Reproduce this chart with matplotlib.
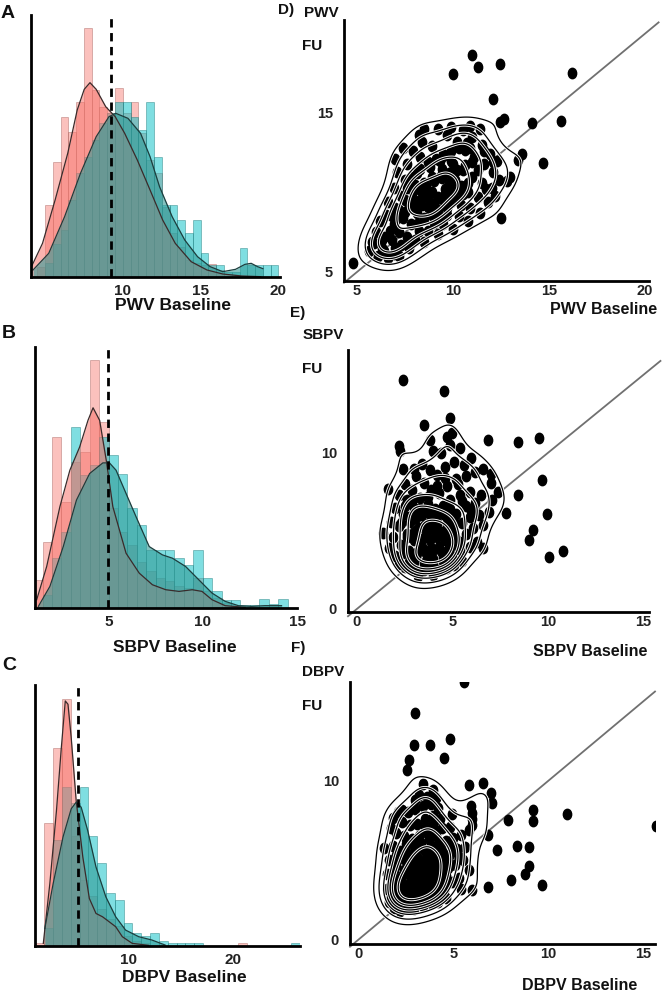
import numpy as np
import matplotlib
matplotlib.use('Agg')
import matplotlib.pyplot as plt
import matplotlib.patheffects as pe
from matplotlib.markers import MarkerStyle
from matplotlib.transforms import Affine2D

plt.rcParams['font.family'] = ['Liberation Sans', 'DejaVu Sans']
plt.rcParams['font.weight'] = 'bold'

PINK = '#F8766D'
TEAL = '#00BFC4'

# ---- histograms (bar heights, arbitrary density units) ----
pwv_start, pwv_width = 4.5, 0.5
pwv_pink = [30, 216, 346, 481, 436, 526, 746, 561, 511, 491, 566, 491, 526, 431, 351, 311,
            211, 131, 91, 51, 41, 36, 38, 21, 10, 5, 0, 0, 0, 0, 0]
pwv_teal = [0, 41, 100, 140, 230, 311, 361, 411, 461, 491, 526, 526, 481, 441, 526, 361,
            216, 216, 171, 131, 171, 71, 36, 36, 16, 16, 86, 36, 36, 36, 36]
pwv_pink_kde_x = [4.13, 4.84, 5.65, 6.46, 7.07, 7.52, 7.89, 8.29, 8.9, 9.51, 10.12, 10.93,
                  11.75, 12.56, 13.37, 14.39, 15.41, 16.42, 17.64, 18.86]
pwv_pink_kde_y = [31, 101, 231, 371, 501, 563, 583, 563, 511, 481, 431, 351, 261, 171, 101,
                  46, 21, 9, 3, 1]
pwv_teal_kde_x = [4.23, 5.24, 6.26, 7.28, 8.29, 9.11, 9.55, 10.33, 11.14, 11.75, 12.36, 13.17,
                  13.98, 14.8, 15.61, 16.42, 17.24, 17.85, 18.25, 18.66, 19.0]
pwv_teal_kde_y = [21, 71, 181, 311, 421, 481, 491, 476, 431, 361, 271, 181, 111, 61, 31, 16,
                  23, 38, 41, 31, 25]
pwv_cut = 9.23

sbpv_start, sbpv_width = 1.0, 0.5
sbpv_pink = [85, 200, 515, 320, 440, 470, 747, 560, 300, 230, 190, 140, 110, 90, 80, 65, 60,
             90, 50, 30, 15, 5, 0, 0, 0, 0, 0]
sbpv_teal = [0, 40, 150, 230, 545, 400, 430, 515, 460, 405, 300, 250, 175, 175, 175, 150, 130,
             175, 90, 50, 25, 25, 8, 8, 28, 12, 28]
sbpv_pink_kde_x = [1.19, 1.72, 2.42, 2.95, 3.47, 3.91, 4.18, 4.53, 4.88, 5.23, 5.93, 6.63,
                   7.33, 8.04, 8.74, 9.44, 9.96, 10.49, 11.19, 12.25]
sbpv_pink_kde_y = [25, 125, 305, 415, 485, 565, 603, 565, 445, 305, 165, 105, 70, 55, 50, 55,
                   50, 25, 7, 2]
sbpv_teal_kde_x = [1.28, 1.89, 2.6, 3.3, 4.0, 4.7, 5.05, 5.4, 5.93, 6.46, 7.16, 7.86, 8.39,
                   9.09, 9.79, 10.49, 11.19, 11.89, 12.6, 13.3, 14.18]
sbpv_teal_kde_y = [5, 65, 185, 325, 405, 437, 437, 415, 345, 275, 185, 160, 150, 125, 85, 45,
                   20, 7, 5, 7, 7]
sbpv_cut = 4.98

dbpv_start, dbpv_width = 1.0, 0.85
dbpv_pink = [8, 370, 595, 745, 330, 200, 150, 110, 80, 60, 30, 15, 8, 0, 0, 0, 0, 0, 0, 0,
             0, 0, 0, 8, 0, 0, 0, 0, 0, 0]
dbpv_teal = [0, 55, 320, 480, 430, 478, 330, 250, 160, 140, 70, 40, 30, 40, 15, 8, 8, 8, 8, 0,
             0, 0, 0, 0, 0, 0, 0, 0, 0, 8]
dbpv_pink_kde_x = [1.75, 2.38, 3.02, 3.49, 3.87, 4.13, 4.44, 4.92, 5.56, 6.19, 6.83, 7.46, 8.1,
                   8.73, 9.37, 10.32, 11.9]
dbpv_pink_kde_y = [8, 188, 408, 598, 738, 728, 628, 438, 268, 143, 98, 88, 73, 58, 28, 8, 2]
dbpv_teal_kde_x = [1.9, 2.7, 3.65, 4.44, 4.92, 5.4, 6.03, 6.83, 7.78, 8.73, 9.68, 10.95, 12.22,
                   13.49]
dbpv_teal_kde_y = [53, 188, 328, 413, 433, 418, 348, 238, 148, 88, 48, 28, 18, 3]
dbpv_cut = 5.14

# ---- scatter: baseline vs follow-up ----
pwv_base = [9.98, 10.97, 11.32, 12.45, 16.18, 12.1, 12.45, 12.66, 14.1, 15.6, 14.67, 13.58,
            13.4, 12.97, 12.83, 12.5, 4.78,
            5.6, 5.9, 6.1, 6.3, 6.6, 6.9, 7.2, 6.0, 6.4, 6.8, 7.3, 7.7, 6.2, 6.5, 6.9, 7.2, 7.6,
            8.0, 8.5, 6.6, 7.0, 7.4, 7.8, 8.2, 8.7, 9.2, 6.9, 7.3, 7.7, 8.1, 8.5, 9.0, 9.5, 10.0,
            7.1, 7.5, 7.9, 8.3, 8.7, 9.2, 9.7, 10.3, 10.8, 7.0, 7.6, 8.1, 8.5, 8.9, 9.4, 9.9,
            10.4, 10.9, 11.4, 7.9, 8.3, 8.8, 9.3, 9.8, 10.3, 10.8, 11.3, 11.8, 8.4, 8.9, 9.5,
            10.0, 10.5, 11.0, 11.5, 12.0, 9.2, 9.7, 10.2, 10.6, 11.1, 11.6, 12.1, 9.9, 10.5, 11.0,
            11.5, 11.9, 12.3, 8.5, 10.9, 11.4, 8.0, 8.6, 9.0, 9.6, 10.1, 10.6, 9.3, 8.2, 7.4,
            12.4, 12.2, 11.6, 5.8, 6.4, 7.0, 7.8]
pwv_fu = [17.45, 18.65, 17.9, 18.1, 17.5, 15.9, 14.45, 14.6, 14.4, 14.5, 11.84, 12.42,
          12.05, 10.99, 10.73, 8.38, 5.55,
          6.3, 6.8, 6.0, 6.5, 5.9, 6.1, 6.0, 7.5, 7.2, 7.0, 6.7, 6.5, 8.2, 8.6, 8.0, 7.5, 7.2,
          7.0, 6.9, 9.4, 9.0, 8.4, 8.0, 7.6, 7.6, 7.4, 10.3, 9.8, 9.2, 8.7, 8.3, 8.1, 8.0, 7.7,
          11.3, 10.8, 10.1, 9.5, 9.1, 8.9, 8.6, 8.5, 8.2, 12.1, 11.8, 11.2, 10.6, 10.0, 9.6, 9.4,
          9.2, 9.0, 8.7, 12.6, 12.2, 11.6, 11.0, 10.6, 10.2, 10.0, 9.7, 9.4, 13.2, 12.9, 12.4,
          11.8, 11.4, 11.0, 10.6, 10.3, 14.0, 13.6, 13.2, 12.7, 12.2, 11.8, 11.3, 14.1, 13.9,
          13.5, 13.0, 12.4, 12.0, 14.0, 14.2, 14.0, 10.5, 9.8, 9.3, 10.2, 10.8, 10.4, 12.0,
          13.6, 12.8, 10.8, 9.8, 12.6, 6.9, 6.3, 6.5, 6.8]
pwv_base_core = [8.0, 8.4, 8.8, 9.2, 9.6, 10.0, 10.4, 10.8, 8.2, 8.6, 9.0, 9.4, 9.8, 10.2,
                 10.6, 11.0, 7.8, 8.3, 8.7, 9.1, 9.5, 9.9, 10.3, 10.7, 8.1, 8.5, 8.9, 9.3, 9.7,
                 10.1, 10.5, 7.5, 7.9, 8.4, 8.9, 9.4, 9.9, 6.8, 7.2, 7.6, 6.3, 6.7, 7.1, 7.5,
                 10.9, 11.3, 11.7, 12.1]
pwv_fu_core = [9.0, 9.2, 9.4, 9.7, 9.9, 10.1, 10.4, 10.6, 10.2, 10.4, 10.7, 10.9, 11.2, 11.4,
               11.7, 11.9, 11.0, 11.5, 11.9, 12.1, 12.3, 12.6, 12.8, 13.1, 8.0, 8.4, 8.6, 8.4,
               9.0, 9.6, 9.9, 8.8, 9.6, 10.0, 11.0, 11.5, 12.0, 8.5, 8.9, 10.3, 7.0, 7.6, 8.4,
               9.5, 12.8, 11.4, 10.2, 11.9]

sbpv_base = [2.41, 4.57, 4.88, 3.52, 2.18, 2.23, 6.89, 8.46, 9.56, 9.69, 8.44, 9.98, 9.2, 8.99,
             10.08, 10.78, 7.01, 7.82, 6.6, 1.6, 1.36,
             1.7, 2.0, 2.2, 2.5, 2.9, 3.2, 3.5, 3.9, 4.3, 4.7, 5.1, 5.5, 1.9, 2.3, 2.7, 3.1, 3.6,
             4.0, 4.5, 4.9, 5.4, 5.9, 6.3, 1.8, 2.2, 2.6, 3.0, 3.4, 3.9, 4.3, 4.8, 5.2, 5.7, 6.1,
             6.6, 2.0, 2.4, 2.8, 3.2, 3.6, 4.1, 4.5, 5.0, 5.5, 5.9, 6.4, 6.9, 2.2, 2.6, 3.0, 3.4,
             3.8, 4.2, 4.7, 5.2, 5.7, 6.2, 2.5, 2.9, 3.3, 3.7, 4.1, 4.5, 4.9, 5.4, 5.9, 6.5, 7.1,
             3.1, 3.5, 3.9, 4.3, 4.7, 5.2, 5.7, 6.2, 3.4, 3.8, 4.2, 4.6, 5.1, 5.6, 6.0, 4.0, 4.4,
             4.9, 5.4, 3.8, 4.7, 5.0, 6.6, 7.0, 7.4, 3.2, 2.7, 4.0, 4.6, 3.0, 2.4]
sbpv_fu = [14.66, 13.96, 12.23, 11.81, 10.44, 10.13, 10.86, 10.72, 10.93, 8.27, 7.28, 6.08,
           5.06, 4.39, 3.33, 3.69, 8.65, 6.12, 3.9, 7.7, 4.85,
           3.9, 3.4, 2.9, 2.7, 2.6, 2.3, 2.5, 2.6, 2.5, 2.6, 2.8, 3.1, 4.6, 4.1, 3.7, 3.3, 3.1,
           3.2, 3.3, 3.5, 3.8, 4.0, 4.3, 5.6, 5.3, 4.8, 4.4, 4.0, 3.9, 4.0, 4.2, 4.5, 4.8, 5.2,
           5.4, 6.5, 6.1, 5.6, 5.2, 4.8, 4.7, 4.9, 5.1, 5.5, 5.9, 6.0, 6.2, 7.3, 7.0, 6.5, 6.0,
           5.6, 5.5, 5.8, 6.1, 6.6, 6.8, 8.0, 7.6, 7.1, 6.7, 6.4, 6.6, 7.0, 7.3, 7.5, 7.3, 7.0,
           8.5, 8.1, 7.6, 7.4, 7.9, 8.3, 8.5, 8.8, 9.3, 8.9, 8.6, 9.1, 9.4, 9.2, 9.7, 10.1, 10.0,
           10.5, 10.3, 10.8, 11.0, 11.3, 9.0, 8.1, 7.5, 2.1, 3.0, 2.2, 3.0, 9.0, 9.0]
sbpv_base_core = [2.4, 2.8, 3.2, 3.6, 4.0, 4.4, 4.8, 5.2, 2.6, 3.0, 3.4, 3.8, 4.2, 4.6, 5.0,
                  5.4, 2.3, 2.7, 3.1, 3.5, 3.9, 4.3, 4.7, 5.1, 2.5, 2.9, 3.3, 3.7, 4.1, 4.5, 4.9,
                  3.0, 3.5, 4.0, 4.5, 5.0, 5.5, 6.0, 3.7, 4.2, 4.6, 5.3]
sbpv_fu_core = [3.6, 3.5, 3.7, 3.6, 3.8, 3.7, 3.9, 4.1, 4.6, 4.9, 4.5, 4.4, 4.6, 4.4, 4.8, 4.3,
                5.5, 5.9, 5.8, 5.3, 5.2, 5.0, 5.4, 5.6, 6.6, 6.9, 6.4, 6.2, 5.9, 6.1, 6.4, 3.0,
                2.9, 2.9, 3.1, 3.3, 6.9, 6.3, 7.2, 7.9, 8.4, 8.0]

dbpv_base = [5.53, 2.98, 2.93, 3.77, 4.83, 4.51, 2.65, 2.54, 5.84, 6.58, 7.02, 7.0, 6.0, 6.0,
             7.89, 9.16, 9.2, 10.97, 15.67, 6.84, 7.28, 8.35, 8.98, 8.95, 8.77, 8.04, 9.65,
             6.81, 6.0, 1.37, 1.81, 2.28,
             1.6, 1.9, 2.2, 2.6, 3.0, 3.4, 3.8, 4.2, 4.6, 1.5, 1.8, 2.1, 2.5, 2.9, 3.3, 3.7, 4.1,
             4.5, 4.9, 5.3, 1.5, 1.9, 2.3, 2.7, 3.1, 3.5, 3.9, 4.3, 4.7, 5.1, 5.5, 1.6, 2.0, 2.4,
             2.8, 3.2, 3.6, 4.0, 4.4, 4.8, 5.2, 5.6, 1.8, 2.2, 2.6, 3.0, 3.4, 3.8, 4.2, 4.6, 5.0,
             5.4, 2.0, 2.4, 2.8, 3.2, 3.6, 4.0, 4.4, 4.8, 2.3, 2.7, 3.1, 3.5, 3.9, 4.3, 2.6, 3.0,
             3.4, 3.8, 4.2, 3.2, 3.6, 3.9, 3.4, 3.0, 4.1, 1.7, 2.1, 4.9, 5.8, 5.9, 6.0, 2.9, 3.6,
             4.4, 2.0, 5.8, 5.4]
dbpv_fu = [16.2, 14.26, 12.26, 12.26, 12.62, 11.43, 11.32, 10.65, 9.75, 9.85, 8.6, 9.2, 7.97,
           7.2, 7.55, 8.18, 7.45, 7.92, 7.13, 6.6, 5.66, 5.91, 5.82, 4.61, 4.15, 3.77, 3.46,
           3.29, 3.14, 5.77, 7.65, 8.18,
           2.4, 2.0, 1.8, 2.0, 2.2, 2.1, 2.3, 2.4, 2.6, 3.2, 2.9, 2.6, 2.8, 2.9, 3.0, 3.2, 3.3,
           3.5, 3.6, 3.9, 4.1, 3.8, 3.5, 3.6, 3.8, 4.0, 4.1, 4.3, 4.5, 4.7, 5.0, 5.0, 4.7, 4.4,
           4.5, 4.7, 4.9, 5.0, 5.2, 5.4, 5.7, 5.8, 5.9, 5.6, 5.4, 5.5, 5.7, 5.9, 6.0, 6.2, 6.4,
           6.6, 6.7, 6.5, 6.3, 6.5, 6.7, 6.9, 7.0, 7.1, 7.4, 7.2, 7.3, 7.6, 7.8, 7.6, 8.0, 8.2,
           8.4, 8.5, 8.3, 9.1, 9.0, 9.4, 9.8, 8.8, 8.9, 7.0, 8.0, 7.9, 6.9, 8.4, 7.6, 1.9, 2.6,
           2.9, 3.3, 4.4, 3.2]
dbpv_base_core = [1.7, 2.1, 2.5, 2.9, 3.3, 3.7, 4.1, 4.5, 1.8, 2.2, 2.6, 3.0, 3.4, 3.8, 4.2,
                  4.6, 1.9, 2.3, 2.7, 3.1, 3.5, 3.9, 4.3, 4.7, 2.0, 2.4, 2.8, 3.2, 3.6, 4.0, 4.4,
                  2.5, 2.9, 3.3, 3.7, 4.1, 3.5, 3.9, 5.0, 5.3]
dbpv_fu_core = [2.7, 2.3, 2.4, 2.5, 2.6, 2.7, 2.9, 3.1, 3.6, 3.2, 3.2, 3.4, 3.5, 3.6, 3.8, 4.0,
                4.4, 4.0, 4.1, 4.2, 4.4, 4.5, 4.7, 4.9, 5.3, 5.1, 4.9, 5.1, 5.3, 5.5, 5.6, 6.0,
                5.9, 6.1, 6.3, 6.5, 7.1, 7.3, 5.9, 5.2]

W, H = 666, 994
fig = plt.figure(figsize=(W / 100, H / 100), dpi=100)


def px_axes(left, top, right, bottom):
    return fig.add_axes([left / W, 1 - bottom / H, (right - left) / W, (bottom - top) / H])


def ftext(x, y, s, size, ha='center'):
    fig.text(x / W, 1 - y / H, s, fontsize=size, fontweight='bold', ha=ha, va='center',
             color='#111111')


def style(ax):
    for side in ('top', 'right'):
        ax.spines[side].set_visible(False)
    for side in ('left', 'bottom'):
        ax.spines[side].set_linewidth(2)
        ax.spines[side].set_color('black')
    ax.tick_params(length=0, labelsize=11, labelcolor='#222222')
    for lab in ax.get_xticklabels() + ax.get_yticklabels():
        lab.set_fontweight('bold')


def draw_hist(ax, start, width, pink, teal, pkx, pky, tkx, tky, cut, xlim, ticks):
    edges = start + width * np.arange(len(pink))
    ax.bar(edges, pink, width, align='edge', color=PINK, alpha=0.45,
           edgecolor='#9c5550', linewidth=0.6)
    ax.bar(edges, teal, width, align='edge', color=TEAL, alpha=0.5,
           edgecolor='#1c7a7b', linewidth=0.6)
    ax.fill_between(pkx, pky, color=PINK, alpha=0.55, linewidth=0)
    ax.fill_between(tkx, tky, color='#2f9a96', alpha=0.6, linewidth=0)
    ax.plot(pkx, pky, color='#3a2a2a', lw=0.9)
    ax.plot(tkx, tky, color='#1d3d3d', lw=0.9)
    ax.axvline(cut, color='black', lw=2, ls=(0, (3, 2)))
    ax.set_xlim(xlim)
    ax.set_ylim(0, 786)
    ax.set_yticks([])
    ax.set_xticks(ticks)
    style(ax)
    ax.tick_params(axis='x', pad=5)


def kde_contours(ax, x, y, xlim, ylim):
    n = len(x)
    bx = 0.75 * np.std(x) * n ** (-1 / 6)
    by = 0.75 * np.std(y) * n ** (-1 / 6)
    gx = np.linspace(xlim[0], xlim[1], 200)
    gy = np.linspace(ylim[0], ylim[1], 200)
    GX, GY = np.meshgrid(gx, gy)
    Z = np.zeros_like(GX)
    for xi, yi in zip(x, y):
        Z += np.exp(-0.5 * (((GX - xi) / bx) ** 2 + ((GY - yi) / by) ** 2))
    levels = Z.max() * np.array([0.17, 0.3, 0.44, 0.58, 0.72, 0.86])
    cs = ax.contour(GX, GY, Z, levels=levels, colors='black', linewidths=0.9, zorder=3)
    cs.set_path_effects([pe.Stroke(linewidth=2.2, foreground='white'), pe.Normal()])


dot = MarkerStyle('o', transform=Affine2D().scale(0.8, 1.0))


def draw_scatter(ax, bx, fy, xlim, ylim, line_end, xt, yt):
    start = min(xlim[0], ylim[0])
    ax.plot([start, line_end], [start, line_end], color='#707070', lw=1.3, zorder=1,
            clip_on=False)
    ax.plot(bx, fy, ls='none', marker=dot, ms=7.5, color='black', zorder=2)
    kde_contours(ax, bx, fy, xlim, ylim)
    ax.set_xlim(xlim)
    ax.set_ylim(ylim)
    ax.set_xticks(xt)
    ax.set_yticks(yt)
    style(ax)
    ax.tick_params(labelsize=10.5)
    ax.tick_params(axis='x', pad=2)
    ax.tick_params(axis='y', pad=8)


# ---- histograms ----
axA = px_axes(31, 15, 280, 277)
draw_hist(axA, pwv_start, pwv_width, pwv_pink, pwv_teal, pwv_pink_kde_x, pwv_pink_kde_y,
          pwv_teal_kde_x, pwv_teal_kde_y, pwv_cut, (4.1, 20.1), [10, 15, 20])
axB = px_axes(35, 347, 297, 608)
draw_hist(axB, sbpv_start, sbpv_width, sbpv_pink, sbpv_teal, sbpv_pink_kde_x, sbpv_pink_kde_y,
          sbpv_teal_kde_x, sbpv_teal_kde_y, sbpv_cut, (1.1, 14.9), [5, 10, 15])
axC = px_axes(35, 685, 300, 946)
draw_hist(axC, dbpv_start, dbpv_width, dbpv_pink, dbpv_teal, dbpv_pink_kde_x, dbpv_pink_kde_y,
          dbpv_teal_kde_x, dbpv_teal_kde_y, dbpv_cut, (0.95, 26.5), [10, 20])

# ---- scatter plots ----
axD = px_axes(344, 20, 649, 281)
draw_scatter(axD, pwv_base + pwv_base_core, pwv_fu + pwv_fu_core, (4.32, 20.2), (4.43, 20.85),
             20.7, [5, 10, 15, 20], [5, 15])
axE = px_axes(348, 350, 649, 612)
draw_scatter(axE, sbpv_base + sbpv_base_core, sbpv_fu + sbpv_fu_core, (-0.47, 15.3),
             (-0.2, 16.6), 15.9, [0, 5, 10, 15], [0, 10])
axF = px_axes(350, 682, 655, 944)
draw_scatter(axF, dbpv_base + dbpv_base_core, dbpv_fu + dbpv_fu_core, (-0.44, 15.6),
             (-0.27, 16.2), 15.6, [0, 5, 10, 15], [0, 10])

# ---- text ----
ftext(8, 13, 'A', 14)
ftext(9, 334, 'B', 14)
ftext(9, 665, 'C', 14)
ftext(286, 10, 'D)', 11)
ftext(298, 313, 'E)', 11)
ftext(298, 648, 'F)', 11)
ftext(321, 13, 'PWV', 11)
ftext(312, 46, 'FU', 11)
ftext(323, 335, 'SBPV', 11)
ftext(312, 369, 'FU', 11)
ftext(323, 672, 'DBPV', 11)
ftext(312, 706, 'FU', 11)
ftext(173, 306, 'PWV Baseline', 12.5)
ftext(175, 647, 'SBPV Baseline', 12.5)
ftext(184, 978, 'DBPV Baseline', 12.5)
ftext(604, 310, 'PWV Baseline', 11.5)
ftext(590, 652, 'SBPV Baseline', 11.5)
ftext(580, 986, 'DBPV Baseline', 11.5)

fig.savefig('out.png', dpi=100)
